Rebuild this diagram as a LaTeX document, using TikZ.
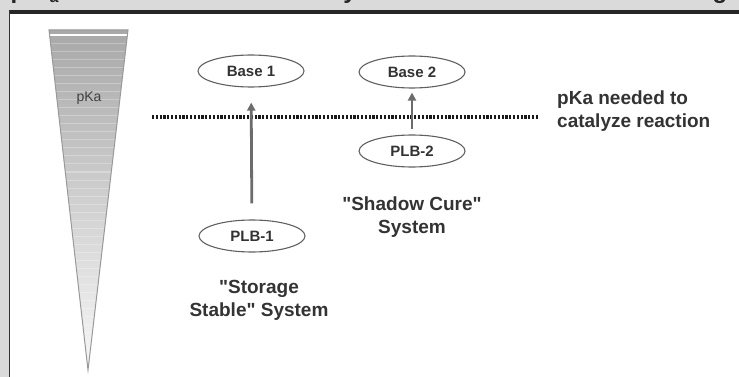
\documentclass[tikz,border=0pt]{standalone}
\usepackage{fontspec}
\setmainfont{Liberation Sans}
\usetikzlibrary{shapes.geometric,arrows.meta}
\definecolor{panelgray}{HTML}{DADADA}
\definecolor{inkgray}{HTML}{333333}

\begin{document}
\begin{tikzpicture}[x=1pt,y=-1pt,
    base/.style={ellipse, draw=gray!75!black, line width=1.1pt, inner sep=0pt,
        minimum width=106pt, minimum height=32pt, text=inkgray,
        font=\fontsize{15}{18}\selectfont\bfseries},
    lbl/.style={text=inkgray, align=center, inner sep=0pt,
        font=\fontsize{19}{23}\selectfont\bfseries},
    rise/.style={-{Triangle[length=8pt,width=8pt]}, line width=2.8pt, draw=gray!85!black}]
        \useasboundingbox (0,0) rectangle (739,377);

        % panel and frame
        \fill[panelgray] (0,0) rectangle (739,377);
        \fill[white] (9.5,10) rectangle (739,377);
        \draw[line width=4.2pt, black!85] (8.5,11.8) -- (739,11.8);
        \draw[line width=1.4pt, black!80] (9.6,10) -- (9.6,377);

        % cut off heading above the frame
        \begin{scope}
            \clip (0,0) rectangle (739,9.2);
            \node[anchor=base, inner sep=0pt, font=\fontsize{24}{28}\selectfont\bfseries, text=black!85] (hp) at (18,-1) {p};
            \node[anchor=base, inner sep=0pt, font=\fontsize{16}{18}\selectfont\bfseries, text=black!85] (ha) at (54,3) {a};
            \node[anchor=base, inner sep=0pt, font=\fontsize{24}{28}\selectfont\bfseries, text=black!85] (hy) at (350,-1) {y};
            \node[anchor=base, inner sep=0pt, font=\fontsize{24}{28}\selectfont\bfseries, text=black!85] (hg) at (720,-1) {g};
        \end{scope}

        % pKa cone
        \coordinate (tl) at (49,30);
        \coordinate (tr) at (128,30);
        \coordinate (tip) at (88,370);
        \begin{scope}
            \clip (tl) -- (tr) -- (tip) -- cycle;
            \shade[top color=gray!68, bottom color=gray!6] (49,30) rectangle (128,370);
            \foreach \y in {44,52,...,340}
                \draw[white, opacity=0.28, line width=1pt] (40,\y) -- (140,\y);
            \draw[white, line width=2pt] (40,35) -- (140,35);
        \end{scope}
        \draw[gray!80, line width=1pt] (tl) -- (tr) -- (tip) -- cycle;
        \node[text=black!75, font=\fontsize{14}{16}\selectfont] (pka) at (89,98) {pKa};

        % level line
        \coordinate (lvlL) at (152,117);
        \coordinate (lvlR) at (538,117);
        \draw[line width=3.2pt, black!90, dash pattern=on 2.2pt off 1.6pt] (lvlL) -- (lvlR);
        \node[lbl, align=left, anchor=west] (need) at (557,111.5) {pKa needed to\\catalyze reaction};

        % bases
        \node[base] (b1) at (251,71) {Base 1};
        \node[base] (b2) at (412,72) {Base 2};
        \node[base] (p2) at (412,151) {PLB-2};
        \node[base] (p1) at (252,236) {PLB-1};

        \draw[rise, shorten <=16pt, shorten >=15pt] (p1) -- (b1);
        \draw[rise, shorten <=5pt, shorten >=4pt] (p2) -- (b2);

        \node[lbl] (shadow) at (412,217) {\textquotedbl Shadow Cure\textquotedbl\\System};
        \node[lbl] (storage) at (259,300) {\textquotedbl Storage\\Stable\textquotedbl{} System};
\end{tikzpicture}
\end{document}
